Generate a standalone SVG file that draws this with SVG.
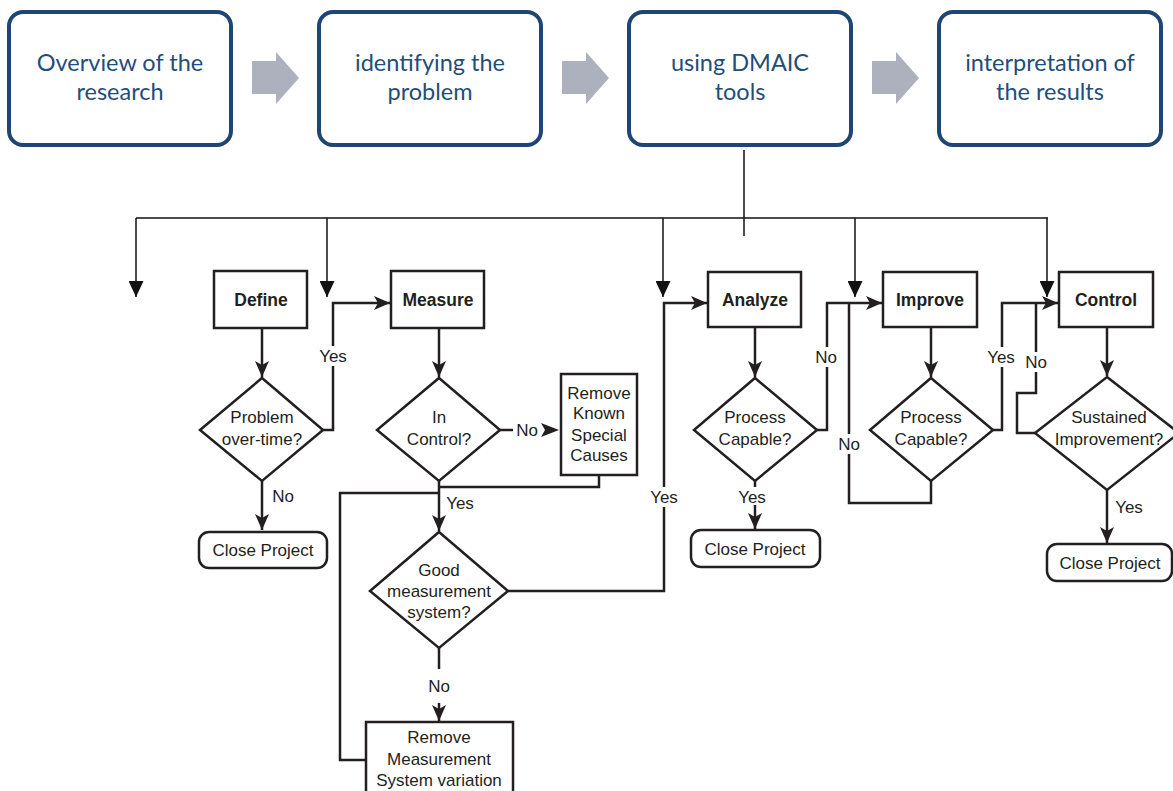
<svg xmlns="http://www.w3.org/2000/svg" width="1173" height="791" viewBox="0 0 1173 791">
<style>
.top{fill:#fff;stroke:#1f4574;stroke-width:4}
.tt{font-family:Lato,"Open Sans",sans-serif;font-size:23.5px;fill:#1f4e79;text-anchor:middle}
.ga{fill:#adb1be}
.tl{fill:none;stroke:#111;stroke-width:1.5}
.fl{fill:none;stroke:#231f20;stroke-width:2.5}
.nd{fill:#fff;stroke:#231f20;stroke-width:2.5}
.ft{font-family:"Liberation Sans Narrow","Liberation Sans",Arial,sans-serif;font-size:17px;fill:#231f20;text-anchor:middle}
.fb{font-family:"Liberation Sans",Arial,sans-serif;font-size:17.5px;font-weight:bold;fill:#231f20;text-anchor:middle}
.bg{fill:#fff}
</style>
<defs>
<marker id="fa" viewBox="0 0 16 14" refX="16" refY="7" markerWidth="16" markerHeight="14" markerUnits="userSpaceOnUse" orient="auto"><path d="M0,0 L16,7 L0,14 L4,7 z" fill="#231f20"/></marker>
<marker id="ta" viewBox="0 0 16 15" refX="16" refY="7.5" markerWidth="16" markerHeight="15" markerUnits="userSpaceOnUse" orient="auto"><path d="M0,0 L16,7.5 L0,15 z" fill="#111"/></marker>
</defs>
<rect width="1173" height="791" fill="#fff"/>

<g id="top-arrows">
<path class="ga" d="M252,61 H276 V52 L299,78 L276,104 V94 H252 z"/>
<path class="ga" d="M562,61 H586 V52 L609,78 L586,104 V94 H562 z"/>
<path class="ga" d="M872,61 H896 V52 L919,78 L896,104 V94 H872 z"/>
</g>
<g id="overview"><rect class="top" x="9" y="12" width="222" height="133" rx="14"/><text class="tt" x="120" y="71">Overview of the</text><text class="tt" x="120" y="100">research</text></g>
<g id="identifying"><rect class="top" x="319" y="12" width="222" height="133" rx="14"/><text class="tt" x="430" y="71">identifying the</text><text class="tt" x="430" y="100">problem</text></g>
<g id="dmaic"><rect class="top" x="629" y="12" width="222" height="133" rx="14"/><text class="tt" x="740" y="71">using DMAIC</text><text class="tt" x="740" y="100">tools</text></g>
<g id="interpretation"><rect class="top" x="939" y="12" width="222" height="133" rx="14"/><text class="tt" x="1050" y="71">interpretation of</text><text class="tt" x="1050" y="100">the results</text></g>

<g id="connectors">
<path class="tl" d="M744,150 V236"/>
<path class="tl" d="M136,218 H1048"/>
<path class="tl" d="M136,218 V297" marker-end="url(#ta)"/>
<path class="tl" d="M327,218 V297" marker-end="url(#ta)"/>
<path class="tl" d="M663,218 V297" marker-end="url(#ta)"/>
<path class="tl" d="M855,218 V297" marker-end="url(#ta)"/>
<path class="tl" d="M1047,218 V297" marker-end="url(#ta)"/>

<path class="fl" d="M262,328 V377" marker-end="url(#fa)"/>
<path class="fl" d="M323,430 H333 V303 H390" marker-end="url(#fa)"/>
<path class="fl" d="M262,481 V530" marker-end="url(#fa)"/>
<path class="fl" d="M439,328 V377" marker-end="url(#fa)"/>
<path class="fl" d="M500,430 H513"/>
<path d="M541,423 L559,430 L541,437 L545,430 z" fill="#231f20"/>
<path class="fl" d="M599,475 V487 H439"/>
<path class="fl" d="M439,481 V531" marker-end="url(#fa)"/>
<path class="fl" d="M508,591 H664 V303 H707" marker-end="url(#fa)"/>
<path class="fl" d="M439,648 V669"/>
<path class="fl" d="M439,703 V721" marker-end="url(#fa)"/>
<path class="fl" d="M366,760 H340 V493 H439"/>
<path class="fl" d="M755,327 V377" marker-end="url(#fa)"/>
<path class="fl" d="M817,430 H827 V303 H882" marker-end="url(#fa)"/>
<path class="fl" d="M755,481 V529" marker-end="url(#fa)"/>
<path class="fl" d="M931,481 V503 H849 V303"/>
<path class="fl" d="M931,327 V377" marker-end="url(#fa)"/>
<path class="fl" d="M993,430 H1002 V303 H1058" marker-end="url(#fa)"/>
<path class="fl" d="M1035,433 H1017 V393 H1036 V303"/>
<path class="fl" d="M1107,327 V376" marker-end="url(#fa)"/>
<path class="fl" d="M1107,490 V543" marker-end="url(#fa)"/>

<rect class="bg" x="319" y="346" width="28" height="20"/><text class="ft" x="333" y="362">Yes</text>
<text class="ft" x="283" y="502">No</text>
<text class="ft" x="527" y="436">No</text>
<text class="ft" x="460" y="509">Yes</text>
<rect class="bg" x="650" y="487" width="28" height="20"/><text class="ft" x="664" y="503">Yes</text>
<text class="ft" x="439" y="692">No</text>
<rect class="bg" x="815" y="347" width="22" height="20"/><text class="ft" x="826" y="363">No</text>
<rect class="bg" x="738" y="487" width="28" height="18"/><text class="ft" x="752" y="503">Yes</text>
<rect class="bg" x="838" y="434" width="22" height="20"/><text class="ft" x="849" y="450">No</text>
<rect class="bg" x="987" y="347" width="28" height="20"/><text class="ft" x="1001" y="363">Yes</text>
<rect class="bg" x="1025" y="352" width="22" height="20"/><text class="ft" x="1036" y="368">No</text>
<text class="ft" x="1129" y="513">Yes</text>
</g>

<g id="define"><rect class="nd" x="214" y="271" width="93" height="57"/><text class="fb" x="261" y="306">Define</text></g>
<g id="measure"><rect class="nd" x="391" y="271" width="93" height="57"/><text class="fb" x="438" y="306">Measure</text></g>
<g id="analyze"><rect class="nd" x="708" y="272" width="93" height="55"/><text class="fb" x="755" y="306">Analyze</text></g>
<g id="improve"><rect class="nd" x="883" y="272" width="94" height="55"/><text class="fb" x="930" y="306">Improve</text></g>
<g id="control"><rect class="nd" x="1059" y="272" width="94" height="55"/><text class="fb" x="1106" y="306">Control</text></g>

<g id="problem-overtime"><path class="nd" d="M262,378 L323,430 L262,481 L200,430 z"/><text class="ft" x="262" y="423">Problem</text><text class="ft" x="262" y="445">over-time?</text></g>
<g id="in-control"><path class="nd" d="M439,378 L500,430 L439,481 L377,430 z"/><text class="ft" x="439" y="423">In</text><text class="ft" x="439" y="445">Control?</text></g>
<g id="remove-known"><rect class="nd" x="561" y="374" width="76" height="101"/><text class="ft" x="599" y="399">Remove</text><text class="ft" x="599" y="419">Known</text><text class="ft" x="599" y="441">Special</text><text class="ft" x="599" y="461">Causes</text></g>
<g id="good-measurement"><path class="nd" d="M439,532 L508,591 L439,648 L370,591 z"/><text class="ft" x="439" y="576">Good</text><text class="ft" x="439" y="597">measurement</text><text class="ft" x="439" y="618">system?</text></g>
<g id="remove-measurement"><rect class="nd" x="366" y="722" width="147" height="80"/><text class="ft" x="439" y="743">Remove</text><text class="ft" x="439" y="765">Measurement</text><text class="ft" x="439" y="786">System variation</text></g>
<g id="close-define"><rect class="nd" x="199" y="532" width="128" height="36" rx="10"/><text class="ft" x="263" y="556">Close Project</text></g>
<g id="process-capable-1"><path class="nd" d="M755,378 L817,430 L755,481 L694,430 z"/><text class="ft" x="755" y="423">Process</text><text class="ft" x="755" y="445">Capable?</text></g>
<g id="close-analyze"><rect class="nd" x="691" y="530" width="129" height="37" rx="10"/><text class="ft" x="755" y="555">Close Project</text></g>
<g id="process-capable-2"><path class="nd" d="M931,378 L993,430 L931,481 L870,430 z"/><text class="ft" x="931" y="423">Process</text><text class="ft" x="931" y="445">Capable?</text></g>
<g id="sustained"><path class="nd" d="M1107,377 L1179,433 L1107,490 L1035,433 z"/><text class="ft" x="1109" y="423">Sustained</text><text class="ft" x="1109" y="445">Improvement?</text></g>
<g id="close-control"><rect class="nd" x="1047" y="544" width="125" height="37" rx="10"/><text class="ft" x="1110" y="569">Close Project</text></g>
</svg>
